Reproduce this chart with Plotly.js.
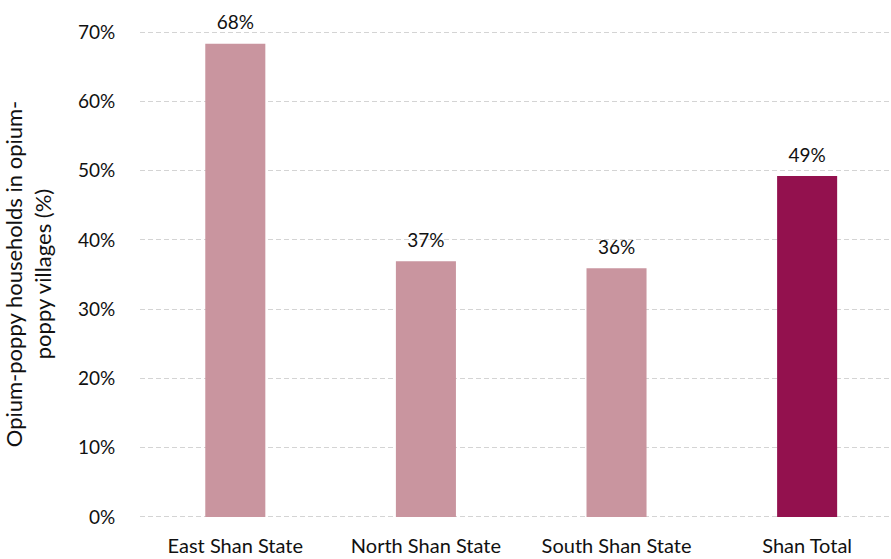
<!DOCTYPE html>
<html>
<head>
<meta charset="utf-8">
<script src="https://cdn.plot.ly/plotly-3.0.1.min.js"></script>
<style>html,body{margin:0;padding:0;background:#fff;}#chart{width:891px;height:559px;}</style>
</head>
<body>
<div id="chart"></div>
<script>
const categories = ["East Shan State", "North Shan State", "South Shan State", "Shan Total"];
const values = [0.683, 0.369, 0.359, 0.492];
const labels = ["68%", "37%", "36%", "49%"];
const barColors = ["#C9959F", "#C9959F", "#C9959F", "#93114E"];
const yTickVals = [0, 0.1, 0.2, 0.3, 0.4, 0.5, 0.6, 0.7];
const yTickText = ["0%", "10%", "20%", "30%", "40%", "50%", "60%", "70%"];

const font = "Lato, 'Open Sans', sans-serif";

const bars = {
  type: "bar",
  x: categories,
  y: values,
  marker: {color: barColors},
  width: 0.315,
  hoverinfo: "skip",
  showlegend: false
};
const texts = {
  type: "scatter",
  mode: "markers+text",
  x: categories,
  y: values,
  text: labels,
  textposition: "top center",
  marker: {size: 14, opacity: 0},
  textfont: {family: font, size: 19, color: "#111"},
  cliponaxis: false,
  hoverinfo: "skip",
  showlegend: false
};

const layout = {
  width: 891, height: 559,
  margin: {l: 140, r: 0, t: 30, b: 41},
  paper_bgcolor: "#fff", plot_bgcolor: "#fff",
  font: {family: font, size: 19, color: "#111"},
  xaxis: {
    type: "category",
    range: [-0.5, 3.44],
    showgrid: false, zeroline: false, showline: false,
    ticks: "outside", ticklen: 10, tickcolor: "rgba(0,0,0,0)",
    tickfont: {family: font, size: 20, color: "#111"}
  },
  yaxis: {
    range: [-0.0015, 0.7029],
    tickvals: yTickVals, ticktext: yTickText,
    showgrid: true, gridcolor: "#d4d4d4", griddash: "5px,3px", gridwidth: 1,
    zeroline: false, showline: false,
    ticks: "outside", ticklen: 20, tickcolor: "rgba(0,0,0,0)",
    tickfont: {family: font, size: 19, color: "#111"},
    title: {text: "Opium-poppy households in opium-<br>poppy villages (%)", font: {family: font, size: 22, color: "#111"}, standoff: 20}
  }
};
Plotly.newPlot("chart", [bars, texts], layout, {displayModeBar: false, staticPlot: true});
</script>
</body>
</html>
